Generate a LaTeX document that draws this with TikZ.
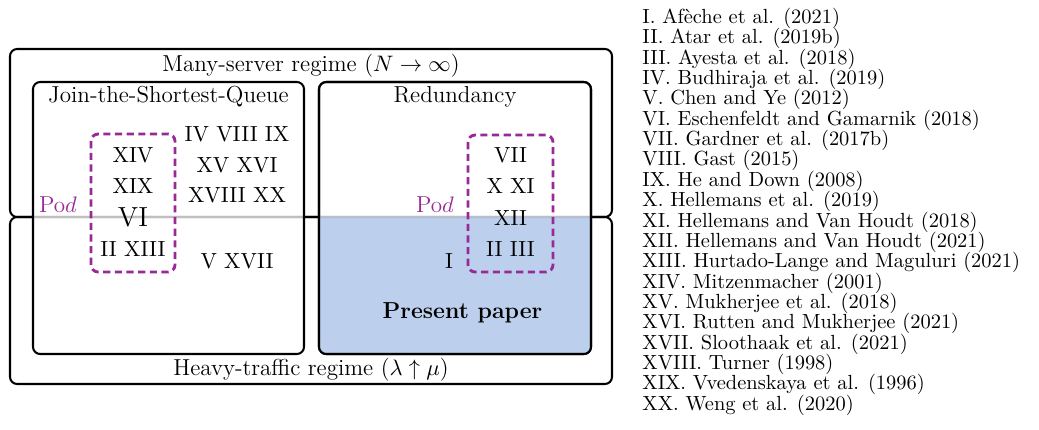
\documentclass[tikz,border=0pt]{standalone}
\usepackage{tikz}
\usetikzlibrary{positioning}
\definecolor{podpurple}{RGB}{152,42,152}
\definecolor{paperblue}{RGB}{167,192,230}
\tikzstyle{regimebox} = [
  rounded corners=3.5pt,
  line width=1pt,
]
\tikzstyle{policybox} = [
  rounded corners=3.5pt,
  line width=1pt,
  fill=white,
  fill opacity=0.75,
]
\tikzstyle{podbox} = [
  rounded corners=3.5pt,
  podpurple,
  line width=1.4pt,
  dash pattern=on 3.5pt off 2.2pt,
]
\tikzstyle{lbl} = [anchor=base, inner sep=0pt, font=\fontsize{11.3}{13.6}\selectfont]
\tikzstyle{numlbl} = [anchor=base, inner sep=0pt, font=\fontsize{10.7}{12.8}\selectfont]
\tikzstyle{reflbl} = [anchor=base west, inner sep=0pt]

\begin{document}
\begin{tikzpicture}[x=0.489pt, y=-0.489pt]
    \useasboundingbox (0,0) rectangle (1039,429);

    % regimes
    \draw[regimebox] (10,49) rectangle (612,217);
    \draw[regimebox] (10,217) rectangle (612,384);

    % policies
    \draw[policybox] (33,82) rectangle (304,354);
    \draw[policybox] (319,82) rectangle (591,354);
    \begin{scope}
        \clip[rounded corners=3.5pt] (319,82) rectangle (591,354);
        \fill[paperblue, fill opacity=0.75] (319,217) rectangle (591,354);
    \end{scope}
    \draw[regimebox] (319,82) rectangle (591,354);

    % pods
    \draw[podbox] (91,134) rectangle (175,272);
    \draw[podbox] (468,135) rectangle (553,272);

    \node[lbl] (manyserver) at (311,71) {Many-server regime ($N\to\infty$)};
    \node[lbl] (heavytraffic) at (311,375) {Heavy-traffic regime ($\lambda\uparrow\mu$)};
    \node[lbl] (jsq) at (168.5,102.5) {Join-the-Shortest-Queue};
    \node[lbl] (redundancy) at (455,102.5) {Redundancy};

    % join-the-shortest-queue
    \node[lbl, text=podpurple] (podjsq) at (58,212) {Po$d$};
    \node[numlbl] (xiv) at (133,162) {XIV};
    \node[numlbl] (xix) at (133,193) {XIX};
    \node[numlbl, font=\fontsize{13.5}{16}\selectfont] (vi) at (133,226) {VI};
    \node[numlbl] (iixiii) at (133,256) {II XIII};
    \node[numlbl] (ivviiiix) at (237,141) {IV VIII IX};
    \node[numlbl] (xvxvi) at (237,172) {XV XVI};
    \node[numlbl] (xviiixx) at (237,202) {XVIII XX};
    \node[numlbl] (vxvii) at (237,268) {V XVII};

    % redundancy
    \node[lbl, text=podpurple] (podred) at (435,212) {Po$d$};
    \node[numlbl] (vii) at (510.5,162) {VII};
    \node[numlbl] (xxi) at (510.5,193) {X XI};
    \node[numlbl] (xii) at (510.5,225) {XII};
    \node[numlbl] (iiiii) at (510.5,256) {II III};
    \node[numlbl] (i) at (449,268) {I};
    \node[lbl, font=\fontsize{11.3}{13.6}\selectfont\bfseries] (present) at (462.5,318) {Present paper};

    % references
    \foreach \reftxt [count=\i] in {I. Afèche et al. (2021), II. Atar et al. (2019b),
        III. Ayesta et al. (2018), IV. Budhiraja et al. (2019), V. Chen and Ye (2012),
        VI. Eschenfeldt and Gamarnik (2018), VII. Gardner et al. (2017b), VIII. Gast (2015),
        IX. He and Down (2008), X. Hellemans et al. (2019),
        XI. Hellemans and Van Houdt (2018), XII. Hellemans and Van Houdt (2021),
        XIII. Hurtado-Lange and Maguluri (2021), XIV. Mitzenmacher (2001),
        XV. Mukherjee et al. (2018), XVI. Rutten and Mukherjee (2021),
        XVII. Sloothaak et al. (2021), XVIII. Turner (1998),
        XIX. Vvedenskaya et al. (1996), XX. Weng et al. (2020)}
        \node[reflbl] (ref\i) at (642,{23.5+(\i-1)*20.35}) {\reftxt};

\end{tikzpicture}
\end{document}
